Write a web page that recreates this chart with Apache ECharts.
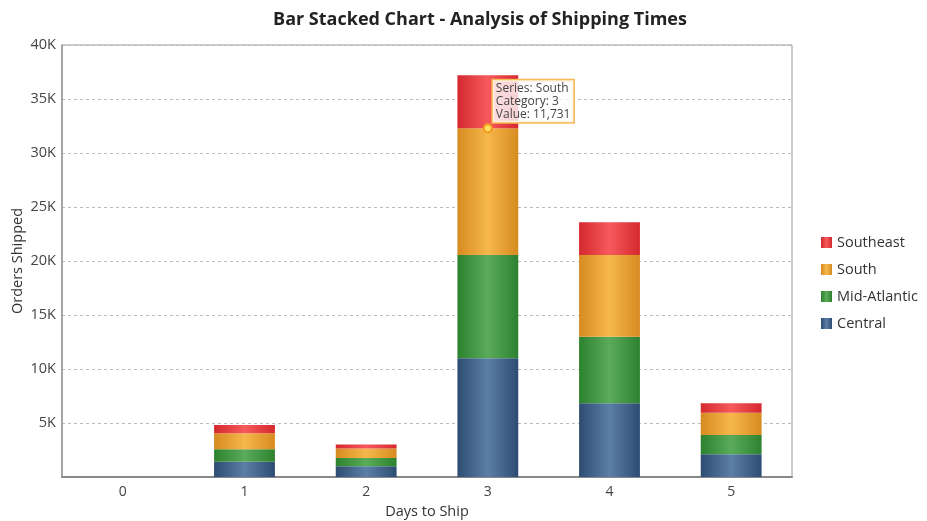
<!DOCTYPE html>
<html>
<head>
<meta charset="utf-8">
<script src="https://cdn.jsdelivr.net/npm/echarts@6/dist/echarts.min.js"></script>
<style>
  html, body { margin: 0; padding: 0; background: #fff; }
  #chart { width: 927px; height: 521px; }
</style>
</head>
<body>
<div id="chart"></div>
<script>
// days to ship
const days = ['0', '1', '2', '3', '4', '5'];
// orders shipped per region (in K)
const central = [0, 1.42, 1.0, 11.0, 6.82, 2.1];
const midAtlantic = [0, 1.15, 0.75, 9.55, 6.17, 1.79];
const south = [0, 1.48, 0.9, 11.731, 7.56, 2.07];
const southeast = [0, 0.77, 0.37, 4.92, 3.03, 0.86];
const yTicks = [0, 5, 10, 15, 20, 25, 30, 35, 40];

// highlighted point (like a hover tooltip)
const hiIndex = 3;

const chart = echarts.init(document.getElementById('chart'));

function grad(edge, mid) {
  return new echarts.graphic.LinearGradient(0, 0, 1, 0, [
    { offset: 0, color: edge },
    { offset: 0.5, color: mid },
    { offset: 1, color: edge }
  ]);
}

const hiTop = central[hiIndex] + midAtlantic[hiIndex] + south[hiIndex];

const option = {
  textStyle: { fontFamily: 'Open Sans' },
  title: {
    text: 'Bar Stacked Chart - Analysis of Shipping Times',
    left: 475,
    top: 6,
    textAlign: 'center',
    textStyle: { fontSize: 18, fontWeight: 'bold', color: '#222', fontFamily: 'Open Sans' }
  },
  legend: {
    orient: 'vertical',
    left: 816,
    top: 230,
    itemWidth: 11,
    itemHeight: 11,
    itemGap: 12,
    icon: 'rect',
    data: ['Southeast', 'South', 'Mid-Atlantic', 'Central'],
    textStyle: { fontSize: 14.5, color: '#333', fontFamily: 'Open Sans' }
  },
  grid: {
    left: 62, right: 135, top: 45, bottom: 44,
    outerBoundsMode: 'none',
    show: true, borderColor: '#999', borderWidth: 1
  },
  xAxis: {
    type: 'category',
    data: days,
    name: 'Days to Ship',
    nameLocation: 'middle',
    nameGap: 27,
    nameTextStyle: { fontSize: 14.5, color: '#333' },
    axisLine: { lineStyle: { color: '#888', width: 2 } },
    axisTick: { show: false },
    axisLabel: { fontSize: 14, color: '#444', margin: 8 }
  },
  yAxis: {
    type: 'value',
    min: yTicks[0],
    max: yTicks[yTicks.length - 1],
    interval: 5,
    name: 'Orders Shipped',
    nameLocation: 'middle',
    nameGap: 37,
    nameMoveOverlap: false,
    nameTextStyle: { fontSize: 14.5, color: '#333' },
    axisLine: { show: true, lineStyle: { color: '#999', width: 1.5 } },
    axisTick: { show: false },
    axisLabel: {
      fontSize: 14.5, color: '#444', margin: 6,
      formatter: v => v === 0 ? '' : v + 'K'
    },
    splitLine: { lineStyle: { type: [3, 3], color: '#bbb' } }
  },
  series: [
    {
      name: 'Central', type: 'bar', stack: 'all', barWidth: '50%',
      data: central,
      itemStyle: { color: grad('#2e4c72', '#5c7fa6') }
    },
    {
      name: 'Mid-Atlantic', type: 'bar', stack: 'all',
      data: midAtlantic,
      itemStyle: { color: grad('#2d822f', '#5aab5a') }
    },
    {
      name: 'South', type: 'bar', stack: 'all',
      data: south,
      itemStyle: { color: grad('#d68b20', '#f6b74c') },
      markPoint: {
        symbol: 'circle',
        symbolSize: 8,
        itemStyle: { color: '#ffe066', borderColor: '#f29a1c', borderWidth: 2 },
        label: {
          show: true,
          position: [10, -43],
          align: 'left',
          verticalAlign: 'top',
          formatter: 'Series: South\nCategory: ' + days[hiIndex] +
            '\nValue: ' + Math.round(south[hiIndex] * 1000).toLocaleString('en-US'),
          fontSize: 12,
          lineHeight: 13,
          color: '#444',
          backgroundColor: 'rgba(255,255,255,0.8)',
          borderColor: '#f7b955',
          borderWidth: 1.5,
          padding: [2, 3, 1, 3]
        },
        data: [{ coord: [hiIndex, hiTop] }]
      }
    },
    {
      name: 'Southeast', type: 'bar', stack: 'all',
      data: southeast,
      itemStyle: { color: grad('#d4282e', '#f65a5c') }
    }
  ]
};

chart.setOption(option);
</script>
</body>
</html>
